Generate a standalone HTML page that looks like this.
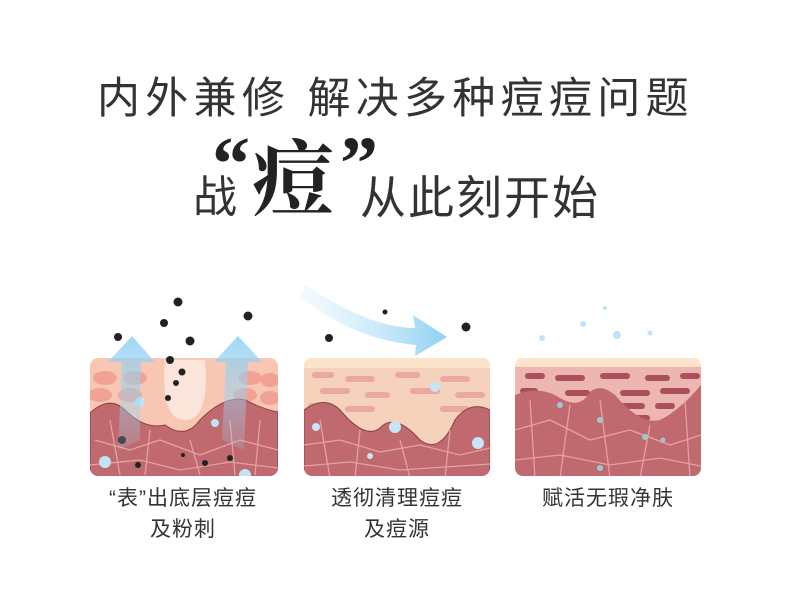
<!DOCTYPE html>
<html><head><meta charset="utf-8"><style>
body{margin:0;width:790px;height:605px;background:#fff;position:relative;overflow:hidden;font-family:"Liberation Sans","Noto Sans CJK SC",sans-serif;color:#333}
.t{position:absolute;white-space:nowrap;line-height:1}
.l{font-size:21px;letter-spacing:1px;width:190px;text-align:center}
</style></head><body>
<div class="t" style="left:97px;top:78px;font-size:43px;letter-spacing:5.3px;color:#333">内外兼修 解决多种痘痘问题</div>
<div class="t" style="left:193px;top:176px;font-size:44px;color:#333">战</div>
<div class="t" style="left:212px;top:126px;font-size:76px;font-family:'Liberation Serif',serif;color:#222;font-weight:bold">“</div>
<div class="t" style="left:252px;top:140px;font-size:82px;font-family:'Liberation Serif','Noto Serif CJK SC',serif;color:#222;font-weight:bold">痘</div>
<div class="t" style="left:340px;top:126px;font-size:76px;font-family:'Liberation Serif',serif;color:#222;font-weight:bold">”</div>
<div class="t" style="left:360px;top:175px;font-size:46px;color:#333;letter-spacing:2px">从此刻开始</div>

<svg width="790" height="605" style="position:absolute;left:0;top:0">
<defs>
<linearGradient id="ar" x1="0" y1="1" x2="0" y2="0"><stop offset="0" stop-color="#9fd6f2" stop-opacity="0.2"/><stop offset="1" stop-color="#8fd0f2"/></linearGradient>
<linearGradient id="ar2" x1="0" y1="0" x2="1" y2="0"><stop offset="0" stop-color="#d8f0fb" stop-opacity="0.3"/><stop offset="1" stop-color="#8fd0f2"/></linearGradient>
<clipPath id="c1"><rect x="90" y="358" width="188" height="118" rx="8"/></clipPath>
<clipPath id="c2"><rect x="304" y="358" width="186" height="118" rx="8"/></clipPath>
<clipPath id="c3"><rect x="515" y="358" width="186" height="118" rx="8"/></clipPath>
</defs>
<g clip-path="url(#c1)">
<rect x="90" y="355" width="188" height="125" fill="#f7c7b4"/>
<g fill="#f2a294">
<ellipse cx="105" cy="378" rx="12" ry="7"/><ellipse cx="135" cy="378" rx="12" ry="7"/><ellipse cx="250" cy="378" rx="12" ry="7"/><ellipse cx="270" cy="380" rx="10" ry="7"/>
<ellipse cx="100" cy="395" rx="12" ry="7"/><ellipse cx="130" cy="395" rx="12" ry="7"/><ellipse cx="245" cy="395" rx="12" ry="7"/><ellipse cx="270" cy="398" rx="10" ry="7"/>
</g>
<path d="M165 360 Q160 420 185 420 Q210 420 205 360 Z" fill="#fbe5da"/>
<path d="M90 413 Q110 395 125 410 Q145 430 165 425 Q185 440 200 420 Q225 395 245 400 Q265 410 278 412 L278 480 L90 480Z" fill="#c06a70" stroke="#8d3f45" stroke-width="1"/>
<g stroke="#e4a2a2" stroke-width="1.3" fill="none">
<path d="M95 440 L130 450 L160 440 L200 455 L240 440 L278 450"/><path d="M110 420 L120 475 M150 430 L145 475 M190 440 L200 475 M230 420 L235 475 M260 420 L255 475"/>
<path d="M90 465 L140 460 L180 470 L230 462 L278 468"/></g>
<g fill="#222"><circle cx="122" cy="440" r="4"/><circle cx="138" cy="465" r="3"/><circle cx="183" cy="455" r="2"/><circle cx="205" cy="463" r="3"/><circle cx="230" cy="458" r="3"/></g>
<g fill="#bfe4f7"><circle cx="105" cy="462" r="6"/><circle cx="140" cy="402" r="5"/><circle cx="215" cy="423" r="4"/><circle cx="245" cy="475" r="6"/></g>
</g>
<path d="M118 450 L122 362 L108 362 L132 336 L155 362 L141 362 L140 440Z" fill="url(#ar)" opacity="0.85"/>
<path d="M222 440 L226 362 L214 362 L238 336 L262 362 L248 362 L244 450Z" fill="url(#ar)" opacity="0.85"/>
<g fill="#222"><circle cx="178" cy="302" r="4.5"/><circle cx="164" cy="323" r="4"/><circle cx="118" cy="337" r="4"/><circle cx="248" cy="316" r="4.5"/><circle cx="190" cy="341" r="4.5"/><circle cx="170" cy="360" r="4"/><circle cx="182" cy="372" r="3.5"/><circle cx="176" cy="383" r="3"/><circle cx="168" cy="398" r="3"/></g>
<g clip-path="url(#c2)">
<rect x="304" y="355" width="186" height="125" fill="#f6d2bd"/>
<rect x="304" y="355" width="186" height="13" fill="#fbe3cc"/>
<g fill="#e9a9a2"><rect x="312" y="372" width="22" height="6" rx="3"/><rect x="345" y="376" width="30" height="6" rx="3"/><rect x="395" y="372" width="25" height="6" rx="3"/><rect x="440" y="376" width="30" height="6" rx="3"/>
<rect x="320" y="388" width="30" height="6" rx="3"/><rect x="365" y="392" width="25" height="6" rx="3"/><rect x="410" y="388" width="30" height="6" rx="3"/><rect x="455" y="392" width="30" height="6" rx="3"/>
<rect x="308" y="403" width="25" height="6" rx="3"/><rect x="345" y="406" width="30" height="6" rx="3"/><rect x="440" y="406" width="30" height="6" rx="3"/></g>
<path d="M304 410 Q325 395 340 410 Q365 440 380 428 Q395 412 420 440 Q440 455 455 420 Q470 400 490 410 L490 480 L304 480Z" fill="#c06a70" stroke="#8d3f45" stroke-width="1"/>
<g stroke="#e4a2a2" stroke-width="1.3" fill="none"><path d="M304 445 L340 440 L380 452 L420 445 L460 455 L490 448"/><path d="M320 420 L330 478 M360 430 L355 478 M400 440 L410 478 M450 430 L445 478"/><path d="M304 466 L350 462 L400 470 L490 464"/></g>
<g fill="#c6e6f7"><circle cx="395" cy="427" r="6"/><circle cx="435" cy="387" r="5"/><circle cx="478" cy="443" r="6"/><circle cx="316" cy="427" r="4"/><circle cx="370" cy="456" r="3"/></g>
</g>
<path d="M305 285 Q370 328 415 328 L413 315 L447 337 L415 356 L416 345 Q355 340 300 297Z" fill="url(#ar2)"/>
<g fill="#222"><circle cx="329" cy="338" r="4"/><circle cx="385" cy="312" r="2.5"/><circle cx="466" cy="327" r="4.5"/></g>
<g clip-path="url(#c3)">
<rect x="515" y="355" width="186" height="125" fill="#eeb6b0"/>
<rect x="515" y="355" width="186" height="12" fill="#fbe3cc"/>
<g fill="#a9505c"><rect x="525" y="373" width="20" height="6" rx="3"/><rect x="555" y="375" width="30" height="6" rx="3"/><rect x="600" y="373" width="30" height="6" rx="3"/><rect x="645" y="375" width="25" height="6" rx="3"/><rect x="680" y="373" width="20" height="6" rx="3"/>
<rect x="520" y="388" width="18" height="6" rx="3"/><rect x="565" y="390" width="25" height="6" rx="3"/><rect x="620" y="390" width="30" height="6" rx="3"/><rect x="660" y="388" width="30" height="6" rx="3"/><rect x="620" y="403" width="25" height="6" rx="3"/><rect x="655" y="403" width="20" height="6" rx="3"/><rect x="630" y="415" width="20" height="6" rx="3"/></g>
<path d="M515 395 Q540 385 560 398 Q580 410 590 392 Q600 383 615 395 Q640 425 660 420 Q680 410 701 385 L701 480 L515 480Z" fill="#c06a70"/>
<g stroke="#e4a2a2" stroke-width="1.3" fill="none"><path d="M515 430 L550 420 L590 440 L630 430 L670 445 L701 435"/><path d="M530 400 L535 478 M570 405 L560 478 M600 400 L610 478 M650 425 L640 478 M685 400 L690 478"/><path d="M515 460 L560 455 L610 465 L660 458 L701 466"/></g>
<g fill="#9cc8d6"><circle cx="560" cy="405" r="3"/><circle cx="600" cy="420" r="3"/><circle cx="645" cy="437" r="3"/><circle cx="600" cy="468" r="3"/><circle cx="663" cy="440" r="2.5"/></g>
</g>
<g fill="#bfe4f7"><circle cx="542" cy="338" r="3"/><circle cx="583" cy="324" r="3"/><circle cx="617" cy="335" r="4"/><circle cx="650" cy="333" r="2.5"/><circle cx="605" cy="308" r="2"/></g>
</svg>

<div class="t l" style="left:88px;top:488px">“表”出底层痘痘</div>
<div class="t l" style="left:88px;top:519px">及粉刺</div>
<div class="t l" style="left:302px;top:488px">透彻清理痘痘</div>
<div class="t l" style="left:302px;top:519px">及痘源</div>
<div class="t l" style="left:513px;top:488px">赋活无瑕净肤</div>
</body></html>
